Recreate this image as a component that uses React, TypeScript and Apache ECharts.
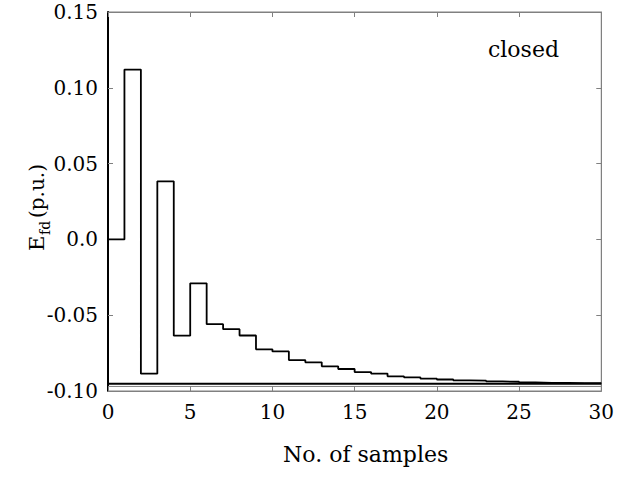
import React, { useEffect, useRef } from "react";
import * as echarts from "echarts";

const sampleIndex = [0, 1, 2, 3, 4, 5, 6, 7, 8, 9, 10, 11, 12, 13, 14, 15, 16, 17, 18, 19, 20, 21, 22, 23, 24, 25, 26, 27, 28, 29, 30];
const efdValues = [0.0, 0.112, -0.0886, 0.0383, -0.0635, -0.029, -0.0559, -0.0592, -0.0634, -0.0725, -0.0739, -0.0796, -0.0811, -0.0837, -0.0855, -0.0875, -0.0885, -0.0903, -0.091, -0.0918, -0.0924, -0.093, -0.0932, -0.0937, -0.0939, -0.0944, -0.0946, -0.0947, -0.0948, -0.0948, -0.0948];
const finalLevel = -0.0952;
const baseLevel = -0.097;
const xTicks = [0, 5, 10, 15, 20, 25, 30];
const yTickLabels: Record<string, string> = { "0.15": "0.15", "0.1": "0.10", "0.05": "0.05", "0": "0.0", "-0.05": "-0.05", "-0.1": "-0.10" };

const FONT = "DejaVu Serif";

export default function App() {
  const ref = useRef<HTMLDivElement>(null);
  useEffect(() => {
    if (!ref.current) return;
    const chart = echarts.init(ref.current, null, { renderer: "svg" });
    const stepData = sampleIndex.map((x, i) => [x, efdValues[i]]);
    const gray = "#808080";
    chart.setOption({
      animation: false,
      backgroundColor: "#ffffff",
      grid: { left: 108, right: 10, top: 12, bottom: 86, show: true, borderColor: gray, borderWidth: 1 },
      xAxis: [
        {
          type: "value", min: 0, max: 30, interval: 5, position: "bottom",
          axisLine: { show: true, onZero: false, lineStyle: { color: gray, width: 1 } },
          axisTick: { show: true, inside: true, length: 5, lineStyle: { color: gray } },
          axisLabel: { show: true, margin: 11, fontFamily: FONT, fontSize: 20, color: "#000", formatter: (v: number) => (xTicks.includes(v) ? String(v) : "") },
          splitLine: { show: false },
          name: "No. of samples", nameLocation: "middle", nameGap: 52,
          nameTextStyle: { fontFamily: FONT, fontSize: 22, color: "#000", padding: [0, 0, 0, 22] },
        },
        {
          type: "value", min: 0, max: 30, interval: 5, position: "top",
          axisLine: { show: true, onZero: false, lineStyle: { color: gray, width: 1 } },
          axisTick: { show: true, inside: true, length: 5, lineStyle: { color: gray } },
          axisLabel: { show: false }, splitLine: { show: false },
        },
      ],
      yAxis: [
        {
          type: "value", min: -0.1, max: 0.15, interval: 0.05, position: "left",
          axisLine: { show: true, onZero: false, lineStyle: { color: "#000", width: 2 } },
          axisTick: { show: true, inside: true, length: 5, lineStyle: { color: gray } },
          axisLabel: {
            margin: 10, fontFamily: FONT, fontSize: 20, color: "#000",
            formatter: (v: number) => yTickLabels[String(Math.round(v * 100) / 100)] ?? String(v),
          },
          splitLine: { show: false },
        },
        {
          type: "value", min: -0.1, max: 0.15, interval: 0.05, position: "right",
          axisLine: { show: true, onZero: false, lineStyle: { color: gray, width: 1 } },
          axisTick: { show: true, inside: true, length: 5, lineStyle: { color: gray } },
          axisLabel: { show: false }, splitLine: { show: false },
        },
      ],
      graphic: [
        {
          type: "text", left: 488, top: 38,
          style: { text: "closed", fontFamily: FONT, fontSize: 22, fill: "#000" },
        },
        {
          type: "group", x: 47, y: 251, rotation: Math.PI / 2,
          children: [
            { type: "text", x: 0, y: 0, style: { text: "E", fontFamily: FONT, fontSize: 21, fill: "#000", verticalAlign: "bottom" } },
            { type: "text", x: 16, y: 5, style: { text: "fd", fontFamily: FONT, fontSize: 14, fill: "#000", verticalAlign: "bottom" } },
            { type: "text", x: 33, y: 0, style: { text: "(p.u.)", fontFamily: FONT, fontSize: 20, fill: "#000", verticalAlign: "bottom" } },
          ],
        },
      ],
      series: [
        {
          type: "line", step: "end", data: stepData, symbol: "none",
          lineStyle: { color: "#000", width: 1.8 }, z: 3,
        },
        {
          type: "line", data: [[0, finalLevel], [30, finalLevel]], symbol: "none",
          lineStyle: { color: "#000", width: 2 }, z: 2,
        },
        {
          type: "line", data: [[0, baseLevel], [30, baseLevel]], symbol: "none",
          lineStyle: { color: gray, width: 1 }, z: 1,
        },
      ],
    });
    return () => chart.dispose();
  }, []);
  return <div ref={ref} style={{ position: "absolute", left: 0, top: 0, width: 617, height: 477 }} />;
}
